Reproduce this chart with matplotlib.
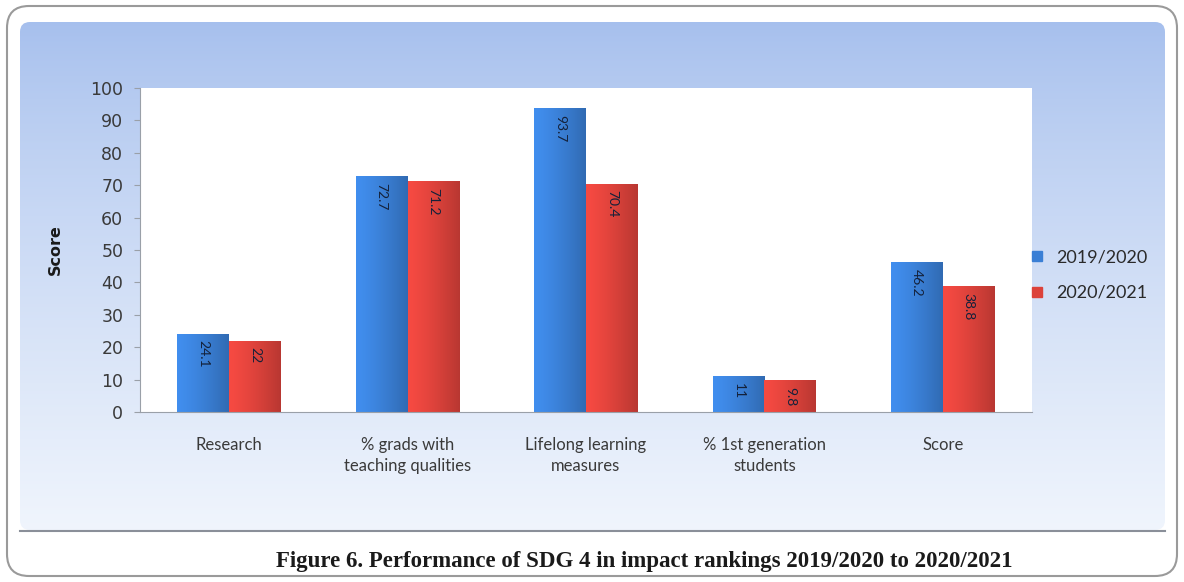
import numpy as np
import matplotlib
matplotlib.use("Agg")
import matplotlib.pyplot as plt
from matplotlib.patches import FancyBboxPatch
from matplotlib.lines import Line2D
from matplotlib.colors import to_rgb

# Dados
categorias = ["Research", "% grads with\nteaching qualities", "Lifelong learning\nmeasures",
              "% 1st generation\nstudents", "Score"]
v2019 = [24.1, 72.7, 93.7, 11, 46.2]
v2020 = [22, 71.2, 70.4, 9.8, 38.8]
rotulos2019 = ["24.1", "72.7", "93.7", "11", "46.2"]
rotulos2020 = ["22", "71.2", "70.4", "9.8", "38.8"]
series = ["2019/2020", "2020/2021"]

azul = "#3a7fd5"
vermelho = "#dc423b"

fig = plt.figure(figsize=(11.84, 5.82), dpi=100)

# Fundo: moldura externa e painel com gradiente
bg = fig.add_axes([0, 0, 1, 1])
bg.set_xlim(0, 1184)
bg.set_ylim(582, 0)
bg.axis("off")

moldura = FancyBboxPatch((7, 6), 1170, 570, boxstyle="round,pad=0,rounding_size=22",
                         facecolor="white", edgecolor="#9a9a9a", linewidth=1.5, zorder=0)
bg.add_patch(moldura)

painel = FancyBboxPatch((20, 22), 1145, 508, boxstyle="round,pad=0,rounding_size=10",
                        facecolor="none", edgecolor="none", zorder=1)
bg.add_patch(painel)
grad = np.linspace(0, 1, 256).reshape(-1, 1)
topo = np.array([0.65, 0.75, 0.93])
base = np.array([0.94, 0.96, 0.99])
cores = topo + (base - topo) * grad[..., None] ** 0.8
img = bg.imshow(np.repeat(cores, 2, axis=1), extent=(20, 1165, 530, 22), aspect="auto", zorder=1)
img.set_clip_path(painel)
bg.plot([20, 1165], [531, 531], color="#8a8f99", linewidth=1.5, zorder=2)

bg.text(644, 561, "Figure 6. Performance of SDG 4 in impact rankings 2019/2020 to 2020/2021",
        ha="center", va="center", fontsize=16.5, fontweight="bold",
        family="Liberation Serif", color="#1a1a1a", zorder=3)

# Grafico de barras
ax = fig.add_axes([140 / 1184, 1 - 412 / 582, 892 / 1184, 324 / 582])
ax.set_facecolor("white")
x = np.arange(len(categorias))
w = 0.29
b1 = ax.bar(x - w / 2, v2019, w, color=azul, edgecolor="none")
b2 = ax.bar(x + w / 2, v2020, w, color=vermelho, edgecolor="none")


# sombreamento horizontal para imitar o efeito 3D
def sombrear(barras, cor):
    c = np.array(to_rgb(cor))
    t = np.linspace(0, 1, 64)
    fator = 1.12 - 0.28 * t ** 1.3
    faixa = np.clip(c[None, :] * fator[:, None], 0, 1)[None, :, :]
    for b in barras:
        im = ax.imshow(faixa, extent=(b.get_x(), b.get_x() + b.get_width(), 0, b.get_height()),
                       aspect="auto", zorder=2)
        im.set_clip_path(b)


sombrear(b1, azul)
sombrear(b2, vermelho)

for barras, rot in [(b1, rotulos2019), (b2, rotulos2020)]:
    for b, r in zip(barras, rot):
        ax.text(b.get_x() + b.get_width() / 2, b.get_height() - 2, r, rotation=270,
                ha="center", va="top", fontsize=10, color="#14213a", family="Lato", zorder=3)

ax.set_xlim(-0.5, 4.5)
ax.set_ylim(0, 100)
ax.set_yticks(np.arange(0, 101, 10))
ax.set_xticks(x)
ax.set_xticklabels(categorias, fontsize=12, color="#3a3a3a", family="Lato", linespacing=1.4)
ax.tick_params(axis="x", length=0, pad=18)
ax.tick_params(axis="y", length=4, color="#9aa0a8", labelsize=12.5, labelcolor="#3a3a3a", pad=8)
for s in ["top", "right"]:
    ax.spines[s].set_visible(False)
ax.spines["left"].set_color("#9aa0a8")
ax.spines["bottom"].set_color("#9aa0a8")
ax.set_ylabel("Score", fontsize=11.5, fontweight="bold", color="#1a1a1a", labelpad=20)

handles = [Line2D([], [], marker="s", linestyle="none", markersize=7, color=azul),
           Line2D([], [], marker="s", linestyle="none", markersize=7, color=vermelho)]
fig.legend(handles, series, loc="center left", bbox_to_anchor=(1003 / 1184, 1 - 275 / 582),
           frameon=False, handletextpad=0.05, labelspacing=1.1,
           prop={"family": "Lato", "size": 13}, labelcolor="#2a2a2a")

fig.savefig("out.png", dpi=100)
